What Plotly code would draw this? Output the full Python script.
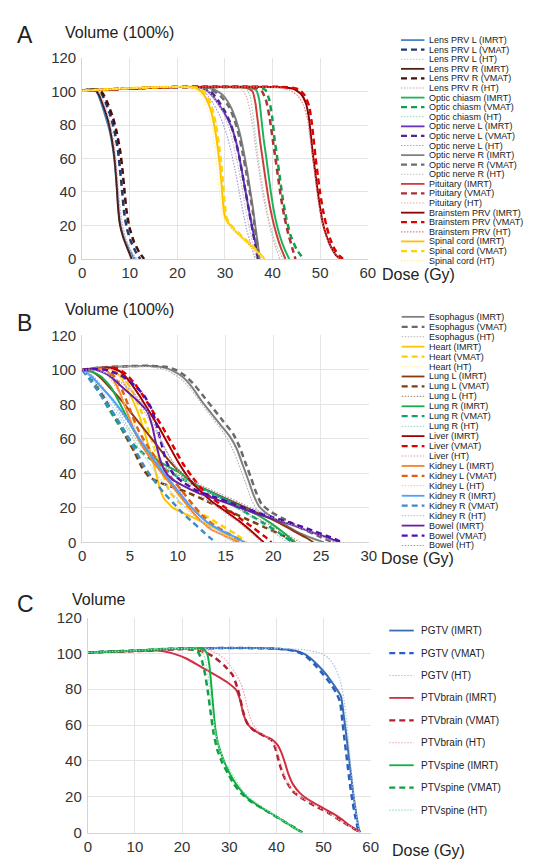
import plotly.graph_objects as go

W, H = 541, 866

# ---------------- Panel A data: (dose Gy, volume %) ----------------
lens_l_imrt = [(0,100.5),(2.5,101.2),(3.2,99),(4,93),(5,84),(5.8,76),(6.5,65),(7,52),(7.4,38),(7.8,24),(8.4,16),(9.3,9),(10.2,4),(11,0)]
lens_l_vmat = [(0,100.5),(3,101.3),(4,99),(5,93),(6,85),(6.8,76),(7.5,65),(8,52),(8.4,40),(8.8,28),(9.4,18),(10.3,10),(11.3,4),(12.2,0)]
lens_l_ht = [(0,100.5),(2.8,101.2),(3.6,98),(4.5,91),(5.5,82),(6.3,72),(6.9,60),(7.3,47),(7.7,33),(8.2,21),(9,12),(10,5),(11.2,0)]
lens_r_imrt = [(0,100.5),(2.7,101.2),(3.5,98),(4.5,91),(5.5,82),(6.2,72),(6.8,60),(7.2,46),(7.5,32),(7.9,21),(8.6,13),(9.4,7),(10.4,0)]
lens_r_vmat = [(0,100.5),(3.5,101.3),(4.5,98),(5.5,92),(6.5,84),(7.3,75),(8,64),(8.5,52),(8.9,40),(9.3,29),(9.9,19),(10.9,10),(12,4),(13,0)]
lens_r_ht = [(0,100.5),(3,101.2),(3.8,98),(4.8,91),(5.8,82),(6.6,71),(7.1,58),(7.5,45),(7.9,32),(8.4,21),(9.2,12),(10.2,5),(11.5,0)]
chiasm_imrt = [(0,100.5),(10,101.8),(20,102.7),(30,102.7),(35,102.3),(36.5,101),(37.2,95),(37.6,85),(38.1,72),(38.7,60),(39.3,47),(39.9,35),(40.6,24),(41.5,14),(42.5,6),(43.5,0)]
chiasm_vmat = [(0,100.5),(10,101.8),(20,102.7),(30,102.7),(37,102.4),(38.5,101),(39.3,95),(39.9,85),(40.4,72),(41,60),(41.6,47),(42.2,35),(42.9,24),(43.8,14),(45,6),(46.5,0)]
chiasm_ht = [(0,100.5),(10,101.8),(20,102.7),(30,102.5),(34.5,101.5),(35.3,97),(35.8,88),(36.3,76),(36.9,62),(37.6,48),(38.4,35),(39.2,24),(40,15),(41,7),(42.2,0)]
nerve_l_imrt = [(0,100.5),(10,101.8),(20,102.7),(24,102.5),(26,101),(27.5,97),(29,91),(30.5,84),(31.6,77),(32.5,68),(33.2,58),(33.9,47),(34.6,36),(35.3,25),(36,15),(36.6,7),(37,0)]
nerve_l_vmat = [(0,100.5),(10,101.8),(20,102.7),(25,102.4),(27,100),(28.5,95),(30,88),(31.3,80),(32.2,71),(33,61),(33.7,50),(34.4,39),(35.1,28),(35.8,17),(36.4,8),(36.9,0)]
nerve_l_ht = [(0,100.5),(10,101.8),(20,102.7),(24,102.2),(26,99),(27.5,93),(29,85),(30.3,75),(31.3,64),(32.2,52),(33,40),(33.8,28),(34.6,17),(35.5,8),(36.3,0)]
nerve_r_imrt = [(0,100.5),(10,101.8),(20,102.7),(25,102.6),(27.5,101.5),(29.5,98),(31,92),(32.2,84),(33.2,74),(34,63),(34.7,52),(35.3,41),(35.9,30),(36.4,19),(36.9,9),(37.3,0)]
nerve_r_vmat = [(0,100.5),(10,101.8),(20,102.7),(25,102.5),(27.2,101),(29.2,97),(30.8,91),(32,83),(33,73),(33.8,62),(34.5,51),(35.2,40),(35.8,29),(36.3,18),(36.8,8),(37.2,0)]
nerve_r_ht = [(0,100.5),(10,101.8),(20,102.7),(24.5,102.3),(26.5,100),(28,95),(29.5,88),(30.8,79),(31.8,68),(32.7,56),(33.5,44),(34.2,32),(35,20),(35.8,10),(36.6,0)]
pituitary_imrt = [(0,100.5),(10,101.8),(20,102.7),(30,102.7),(34.5,102.3),(35.8,100),(36.4,93),(36.9,82),(37.4,70),(38,58),(38.6,46),(39.2,35),(39.9,25),(40.8,15),(41.7,7),(42.7,0)]
pituitary_vmat = [(0,100.5),(10,101.8),(20,102.7),(30,102.7),(36.5,102.2),(37.8,100),(38.7,94),(39.4,84),(40,72),(40.6,60),(41.2,48),(41.8,36),(42.5,25),(43.3,15),(44.1,7),(44.8,0)]
pituitary_ht = [(0,100.5),(10,101.8),(20,102.7),(30,102.5),(33.5,101.5),(34.5,97),(35.3,88),(36,76),(36.6,63),(37.3,50),(38,38),(38.8,27),(39.6,17),(40.5,8),(41.5,0)]
brainstem_imrt = [(0,100.5),(10,101.8),(20,102.7),(35,102.9),(42,102.6),(44.5,101.5),(46,98.5),(47,93),(47.6,85),(48,75),(48.4,64),(48.9,53),(49.4,42),(49.9,32),(50.5,22),(51.3,14),(52.3,7),(53.4,2),(54.2,0)]
brainstem_vmat = [(0,100.5),(10,101.8),(20,102.7),(35,102.9),(43,102.6),(45.5,101.3),(46.8,97.5),(47.7,91),(48.2,82),(48.6,72),(49,61),(49.5,50),(50,39),(50.6,29),(51.3,20),(52.1,12),(53,6),(54,2),(54.8,0)]
brainstem_ht = [(0,100.5),(10,101.8),(20,102.7),(35,102.8),(41,102.4),(43.5,101),(45.3,97.5),(46.5,92),(47.3,84),(47.8,74),(48.3,63),(48.8,52),(49.3,41),(49.8,31),(50.4,22),(51.2,14),(52.2,7),(53.4,2),(54,0)]
cord_imrt = [(0,100.5),(10,102),(20,102.8),(23.5,102.3),(25,100),(26,96),(27,89),(27.8,79),(28.4,68),(28.9,56),(29.3,44),(29.6,33),(30,25),(30.8,21),(32,17),(33.5,13),(35,9),(36.5,5),(38,1),(38.3,0)]
cord_vmat = [(0,100.5),(10,102),(20,102.8),(24,102.3),(25.5,100),(26.5,96),(27.4,89),(28.1,80),(28.7,69),(29.2,57),(29.6,45),(29.9,34),(30.3,25),(31,21),(32.3,17),(33.8,13),(35.3,9),(36.7,5),(38,1),(38.2,0)]
cord_ht = [(0,100.5),(10,102),(20,102.8),(23,102.2),(24.5,99.5),(25.6,95),(26.6,87),(27.4,77),(27.9,66),(28.3,55),(28.7,43),(29.1,33),(29.6,25),(30.5,21),(31.8,17),(33.3,13),(34.8,9),(36.3,5),(37.8,1),(38.1,0)]

# ---------------- Panel B data ----------------
esoph_imrt = [(0,100),(2,101.5),(5,102.2),(7,102.3),(8.5,101.5),(9.5,99.5),(10.5,96),(11.5,90),(12.5,82),(13.5,75),(14.5,68),(15.5,61),(16.2,54),(16.8,45),(17.4,36),(17.9,28),(18.5,21),(19.5,16),(21,11),(22.5,6),(24,2.5),(25.3,0)]
esoph_vmat = [(0,100),(2,101.5),(5,102.2),(7,102.4),(8.8,101.8),(9.8,100),(10.8,96.5),(11.8,91),(12.8,84),(13.8,77),(14.8,70),(15.8,63),(16.5,55),(17.1,46),(17.7,37),(18.2,29),(18.8,22),(19.8,17.5),(21.3,13),(23,8),(24.8,3.5),(26.2,0)]
esoph_ht = [(0,100),(2,101.5),(5,102),(7,101.8),(8.5,100.5),(9.5,98),(10.5,94),(11.5,88),(12.5,80.5),(13.5,73),(14.5,66),(15.3,59),(16,51),(16.6,42),(17.2,33),(17.7,25),(18.3,19),(19.5,14),(21,10),(22.5,5.5),(24,2),(25,0)]
heart_imrt = [(0,100),(2,101),(3,100.5),(4,96),(5,86),(5.8,76),(6.4,66),(7,55),(7.5,45),(8,34),(8.5,26),(9.5,20),(11,16),(12.5,12),(14,8),(15.3,4),(16.5,0)]
heart_vmat = [(0,100),(2,101),(3.3,100.5),(4.3,96),(5.3,87),(6.1,77),(6.8,67),(7.4,57),(8,47),(8.6,37),(9.2,29),(10.2,23),(11.5,19),(13,15),(14.5,10),(16,5),(17.2,0)]
heart_ht = [(0,100),(2,101),(3.2,100),(4.3,94),(5.3,84),(6.2,73),(7,62),(7.8,51),(8.6,40),(9.5,31),(10.5,24),(12,18),(13.5,12),(15,6),(16.5,0)]
lung_l_imrt = [(0,100),(1,99),(2,95),(3,89),(4,83),(5,76),(6,69),(7,62),(8,55),(9,48),(10,42),(11,37),(12,33),(14,28),(16,23),(18,18),(20,13),(22,7),(23.5,2.5),(24.2,0)]
lung_l_vmat = [(0,100),(0.8,96),(1.6,90),(2.5,82),(3.5,72),(4.5,62),(5.5,52),(6.3,43),(7,38),(8,35),(9.5,32),(11,29),(13,24),(15,19),(17,14),(19,9),(21,4),(22.3,0)]
lung_l_ht = [(0,100),(1,97),(2,91),(3,84),(4,76),(5,68),(6,60),(7,53),(8,47),(9.5,41),(11,36),(13,30),(15,24),(17,18),(19,12),(21,6),(22.8,0)]
lung_r_imrt = [(0,100),(1,99),(2,96),(3,90),(4,80),(5,69),(6,59),(7,52),(8,47),(9,44),(10,41),(11,37),(12,33),(13.5,29),(15,25),(16.5,21),(18,17),(19.5,12),(21,6),(22.3,0)]
lung_r_vmat = [(0,100),(0.8,96),(1.6,89),(2.5,80),(3.5,71),(4.5,63),(5.5,56),(6.5,51),(7.5,47),(8.5,43),(10,38),(11.5,34),(13,30),(14.5,26),(16,21),(17.5,16),(19,11),(20.5,6),(22,0)]
lung_r_ht = [(0,100),(1,97),(2,91),(3,83),(4,74),(5,65),(6,57),(7,50),(8,45),(9.5,40),(11,35),(12.5,31),(14,27),(15.5,22),(17,17),(18.5,12),(20,6),(21.5,0)]
liver_imrt = [(0,100),(1.5,101),(3,101.2),(4,99),(5,93),(6,85),(7,76),(8,67),(9,57),(10,47),(10.8,40),(11.6,34),(12.5,29),(13.5,24),(15,18),(16.5,12),(17.8,6),(18.6,2),(19,0)]
liver_vmat = [(0,100),(1.5,101),(3.5,101.2),(4.5,98),(5.5,92),(6.5,84),(7.5,75),(8.5,66),(9.5,56),(10.5,46),(11.5,38),(12.5,31),(13.5,26),(15,20),(16.5,14),(18,8),(19.2,3),(19.8,0)]
liver_ht = [(0,100),(1.5,101),(3,100.5),(4,97),(5,90),(6,81),(7,71),(8,61),(9,51),(10,42),(11,35),(12,29),(13.5,23),(15,17),(16.5,11),(17.8,5),(18.8,0)]
kidney_l_imrt = [(0,100),(1.5,101),(2.5,100),(3.2,95),(4,86),(4.8,74),(5.6,63),(6.5,54),(7.5,46),(8.5,39),(9.5,32),(10.5,25),(11.5,18),(12.5,12),(13.5,7.5),(15,3.5),(16.4,0)]
kidney_l_vmat = [(0,100),(1.5,101),(2.7,100),(3.4,96),(4.2,88),(5,77),(5.8,66),(6.7,57),(7.7,49),(8.7,42),(9.7,35),(10.7,28),(11.7,21),(12.7,15),(13.8,10),(15.3,5),(17,0)]
kidney_l_ht = [(0,100),(1.5,100.5),(2.5,98),(3.3,92),(4.2,83),(5,73),(6,62),(7,53),(8,45),(9,38),(10,31),(11,24),(12,17),(13.2,11),(14.5,6),(16,0)]
kidney_r_imrt = [(0,100),(1,96),(2,90),(3,84),(4,77),(5,69),(6,60),(7,52),(8,44),(9,37),(10,30),(11,23),(12,17),(13,12),(14.5,7),(16,3),(17,0)]
kidney_r_vmat = [(0,100),(0.7,95),(1.5,89),(2.5,81),(3.5,73),(4.5,64),(5.5,54),(6.5,44),(7.5,36),(8.5,29),(9.5,23),(10.5,17),(11.5,12),(12.5,7),(13.3,3),(14,0)]
kidney_r_ht = [(0,100),(1,95),(2,88),(3,80),(4,72),(5,63),(6,54),(7,46),(8,38),(9,31),(10,25),(11,19),(12,14),(13.5,8),(15,3),(16,0)]
bowel_imrt = [(0,100),(1,100.5),(2,99),(3,96),(4,91),(5,86),(6,81),(6.8,76),(7.3,68),(7.7,58),(8.1,49),(8.6,42),(9.3,37),(10.5,33),(12,29),(14,25),(16,21),(18,17),(20,13.5),(22,10),(24,6),(25.8,2.5),(27,0)]
bowel_vmat = [(0,100),(1,100.5),(2.5,100),(4,97),(5.5,91),(6.5,85),(7.2,78),(7.8,68),(8.3,57),(8.8,47),(9.5,40),(10.5,35),(12,30),(14,26),(16,22),(18,18),(20,14.5),(22,11),(24,7),(26,3),(27.2,0)]
bowel_ht = [(0,100),(1,100),(2.5,98),(4,93),(5.5,86),(6.5,79),(7.4,70),(8.2,60),(9,51),(9.8,44),(11,38),(12.5,33),(14.5,28),(16.5,23),(18.5,18),(20.5,13),(22.5,9),(24.5,5),(26.5,0)]

# ---------------- Panel C data ----------------
pgtv_imrt = [(0,100.5),(10,101.5),(20,102.5),(30,103),(40,102.6),(44,101.5),(46,99.5),(48,95.5),(50,90),(51.5,85),(52.8,80),(53.7,76),(54.3,65),(54.8,55),(55.3,44),(55.8,33),(56.3,22),(56.9,11),(57.5,2),(57.8,0)]
pgtv_vmat = [(0,100.5),(10,101.5),(20,102.5),(30,103),(40,102.6),(44,101.3),(46,99),(48,94),(50,88),(51.5,83),(52.7,78),(53.5,73),(54,62),(54.5,51),(55,40),(55.5,29),(56.1,18),(56.8,8),(57.4,1),(57.7,0)]
pgtv_ht = [(0,100.5),(10,101.5),(20,102.5),(30,103),(40,102.8),(46,102),(49,100.5),(51,97.5),(52.5,92),(53.5,85),(54.3,75),(54.9,62),(55.4,48),(55.9,34),(56.4,21),(57,9),(57.6,0)]
ptvbrain_imrt = [(0,100.5),(10,101.3),(15,101.6),(18,100),(21,97),(24,92.5),(27,88),(29.5,84),(31.5,79.5),(32.3,74),(33,66),(33.8,61),(35,57.5),(37,54.5),(39,52),(40.2,49),(41,45),(41.8,39),(42.5,33),(43.5,27),(45,22),(47,18),(50,13.5),(53,9),(55.5,4),(57.5,0.5)]
ptvbrain_vmat = [(0,100.5),(10,101.3),(20,102.4),(23,102),(25,100.5),(27,97.5),(29,93),(30.7,88),(31.7,81),(32.3,75),(33,67),(33.8,61),(35,57.5),(37,54.5),(39,51.5),(39.8,47),(40.5,40),(41.2,34),(42,29),(43.5,23),(45.5,19),(48,15),(51,11),(54,6),(57.5,0.5)]
ptvbrain_ht = [(0,100.5),(10,101.3),(20,102.4),(25,102),(27,100.5),(29,97),(30.5,92),(31.5,88),(32.5,83),(33.3,76),(34,68),(34.7,62),(36,57),(38,53.5),(39.5,50),(40.3,45),(41,38),(41.8,31),(43,25),(45,20),(48,15.5),(51,11),(54,6),(57.5,0.5)]
ptvspine_imrt = [(0,100.5),(10,101.5),(17,102.6),(22,102.7),(24.5,102.3),(25.3,100),(25.8,93),(26.2,82),(26.6,70),(27,59),(27.6,50),(28.3,44),(29.2,38),(30.5,31),(32,25),(34,19),(36.5,14.5),(39,10.5),(41.5,6.5),(43.5,3),(45.5,0)]
ptvspine_vmat = [(0,100.5),(10,101.5),(17,102.6),(21.5,102.6),(23.3,101),(24.2,96),(24.9,88),(25.5,78),(26.1,66),(26.7,55),(27.5,46),(28.5,39),(29.7,33),(31,27),(32.5,22),(34.5,17.5),(37,13.5),(39.5,9.5),(42,5.5),(44,2.5),(45.5,0)]
ptvspine_ht = [(0,100.5),(10,101.5),(17,102.6),(22,102.6),(24,101.8),(24.9,97),(25.5,88),(26,77),(26.5,66),(27.1,56),(27.9,47),(29,40),(30.3,34),(31.7,28),(33.3,22),(35.5,17),(38,12.5),(40.5,8),(43,4),(45.3,0)]

# tick labels
ticks_a_x = [0, 10, 20, 30, 40, 50, 60]
ticks_b_x = [0, 5, 10, 15, 20, 25, 30]
ticks_c_x = [0, 10, 20, 30, 40, 50, 60]
ticks_y = [0, 20, 40, 60, 80, 100, 120]

# series: (name, data, colour, style)
series_a = [
    ("Lens PRV L (IMRT)", lens_l_imrt, "#4a86c8", "solid"),
    ("Lens PRV L (VMAT)", lens_l_vmat, "#1f3a6e", "dash"),
    ("Lens PRV L (HT)", lens_l_ht, "#b8c4dc", "dot"),
    ("Lens PRV R (IMRT)", lens_r_imrt, "#4a2018", "solid"),
    ("Lens PRV R (VMAT)", lens_r_vmat, "#4a0e0e", "dash"),
    ("Lens PRV R (HT)", lens_r_ht, "#c8a0b8", "dot"),
    ("Optic chiasm (IMRT)", chiasm_imrt, "#1db45a", "solid"),
    ("Optic chiasm (VMAT)", chiasm_vmat, "#12a050", "dash"),
    ("Optic chiasm (HT)", chiasm_ht, "#8fd8c0", "dot"),
    ("Optic nerve L (IMRT)", nerve_l_imrt, "#6a30c8", "solid"),
    ("Optic nerve L (VMAT)", nerve_l_vmat, "#4b2a8a", "dash"),
    ("Optic nerve L (HT)", nerve_l_ht, "#b09ae0", "dot"),
    ("Optic nerve R (IMRT)", nerve_r_imrt, "#808080", "solid"),
    ("Optic nerve R (VMAT)", nerve_r_vmat, "#6e6e6e", "dash"),
    ("Optic nerve R (HT)", nerve_r_ht, "#c0c0c0", "dot"),
    ("Pituitary (IMRT)", pituitary_imrt, "#d23c3c", "solid"),
    ("Pituitary (VMAT)", pituitary_vmat, "#b03030", "dash"),
    ("Pituitary (HT)", pituitary_ht, "#e4a8a8", "dot"),
    ("Brainstem PRV (IMRT)", brainstem_imrt, "#8b0000", "solid"),
    ("Brainstem PRV (VMAT)", brainstem_vmat, "#e00000", "dash"),
    ("Brainstem PRV (HT)", brainstem_ht, "#f07878", "dot"),
    ("Spinal cord (IMRT)", cord_imrt, "#ffc000", "solid"),
    ("Spinal cord (VMAT)", cord_vmat, "#ffd400", "dash"),
    ("Spinal cord (HT)", cord_ht, "#fff0a0", "dot"),
]
series_b = [
    ("Esophagus (IMRT)", esoph_imrt, "#808080", "solid"),
    ("Esophagus (VMAT)", esoph_vmat, "#6a6a6a", "dash"),
    ("Esophagus (HT)", esoph_ht, "#b4b4b4", "dot"),
    ("Heart (IMRT)", heart_imrt, "#ffc400", "solid"),
    ("Heart (VMAT)", heart_vmat, "#ffd000", "dash"),
    ("Heart (HT)", heart_ht, "#fff2b0", "dot"),
    ("Lung L (IMRT)", lung_l_imrt, "#8b3a10", "solid"),
    ("Lung L (VMAT)", lung_l_vmat, "#7a4010", "dash"),
    ("Lung L (HT)", lung_l_ht, "#b09478", "dot"),
    ("Lung R (IMRT)", lung_r_imrt, "#1aaa4a", "solid"),
    ("Lung R (VMAT)", lung_r_vmat, "#12a070", "dash"),
    ("Lung R (HT)", lung_r_ht, "#90d0c0", "dot"),
    ("Liver (IMRT)", liver_imrt, "#a00000", "solid"),
    ("Liver (VMAT)", liver_vmat, "#e00000", "dash"),
    ("Liver (HT)", liver_ht, "#d8a0a8", "dot"),
    ("Kidney L (IMRT)", kidney_l_imrt, "#ff8020", "solid"),
    ("Kidney L (VMAT)", kidney_l_vmat, "#e06010", "dash"),
    ("Kidney L (HT)", kidney_l_ht, "#e0c4a4", "dot"),
    ("Kidney R (IMRT)", kidney_r_imrt, "#4f9fff", "solid"),
    ("Kidney R (VMAT)", kidney_r_vmat, "#3c8cc8", "dash"),
    ("Kidney R (HT)", kidney_r_ht, "#b0c8e8", "dot"),
    ("Bowel (IMRT)", bowel_imrt, "#6a20a0", "solid"),
    ("Bowel (VMAT)", bowel_vmat, "#5010b0", "dash"),
    ("Bowel (HT)", bowel_ht, "#a498c4", "dot"),
]
series_c = [
    ("PGTV (IMRT)", pgtv_imrt, "#3a6db0", "solid"),
    ("PGTV (VMAT)", pgtv_vmat, "#2a5fc0", "dash"),
    ("PGTV (HT)", pgtv_ht, "#a8c4e0", "dot"),
    ("PTVbrain (IMRT)", ptvbrain_imrt, "#d03040", "solid"),
    ("PTVbrain (VMAT)", ptvbrain_vmat, "#b02030", "dash"),
    ("PTVbrain (HT)", ptvbrain_ht, "#f0a4b4", "dot"),
    ("PTVspine (IMRT)", ptvspine_imrt, "#10b040", "solid"),
    ("PTVspine (VMAT)", ptvspine_vmat, "#10a040", "dash"),
    ("PTVspine (HT)", ptvspine_ht, "#90e0c0", "dot"),
]

FONT = "Liberation Sans"
DASH = {"solid": "solid", "dash": "6px,4px", "dot": "1.5px,1.5px"}
WIDTH = {"solid": 2, "dash": 2.5, "dot": 1.2}

def px(x):
    return x / W

def py(y):
    return 1 - y / H

fig = go.Figure()

panels = [
    ("", "", series_a, ticks_a_x, [0, 60], (80, 372), (50, 255)),
    ("2", "2", series_b, ticks_b_x, [0, 30], (80, 373), (333, 544)),
    ("3", "3", series_c, ticks_c_x, [0, 60], (85.7, 375), (620.7, 840)),
]

for xs, ys, series, xt, xr, (xl, xrpx), (yt, yb) in panels:
    for name, pts, col, sty in series:
        fig.add_trace(go.Scatter(
            x=[p[0] for p in pts], y=[p[1] for p in pts], mode="lines", name=name,
            line=dict(color=col, width=WIDTH[sty], dash=DASH[sty], shape="spline", smoothing=0.5),
            xaxis="x" + xs, yaxis="y" + ys, showlegend=False, hoverinfo="skip"))
    axcommon = dict(showgrid=True, gridcolor="#e4e4e4", gridwidth=1, zeroline=False,
                    showline=True, linecolor="#d4d4d4", linewidth=1, ticks="",
                    tickfont=dict(family=FONT, size=15, color="#333333"), fixedrange=True)
    fig.update_layout(**{
        "xaxis" + xs: dict(domain=[px(xl), px(xrpx)], range=xr, tickvals=xt,
                           anchor="y" + ys, **axcommon),
        "yaxis" + ys: dict(domain=[py(yb), py(yt)], range=[0, 120], tickvals=ticks_y,
                           anchor="x" + xs, ticklabelstandoff=2, **axcommon),
    })

# manual legends
shapes = []
annos = []
legends = [
    (series_a, 406, 430, 434, 31.7, 9.78, 9.0, 104),
    (series_b, 406.7, 430, 434, 314, 10.14, 9.0, 104),
    (series_c, 394, 419, 425, 634, 22.9, 10, 110),
]
for series, x0, x1, tx, y0, dy, fs, bw in legends:
    for i, (name, pts, col, sty) in enumerate(series):
        yy = y0 + i * dy
        shapes.append(dict(type="line", xref="paper", yref="paper",
                           x0=px(x0), x1=px(x1), y0=py(yy), y1=py(yy),
                           line=dict(color=col, width=WIDTH[sty] * 0.9, dash=DASH[sty])))
        annos.append(dict(text=name, xref="paper", yref="paper", x=px(tx), y=py(yy),
                          xanchor="left", yanchor="middle", showarrow=False, align="left",
                          width=bw, borderpad=0,
                          font=dict(family=FONT, size=fs, color="#222222")))

labels = [
    ("A", 11, 27, 23), ("Volume (100%)", 60, 24, 16), ("Dose (Gy)", 385, 271, 16),
    ("B", 11, 320, 23), ("Volume (100%)", 60, 307, 16), ("Dose (Gy)", 383, 561, 16),
    ("C", 11, 607, 23), ("Volume", 67, 602, 16), ("Dose (Gy)", 395, 858, 16),
]
for t, x, y, s in labels:
    annos.append(dict(text=t, xref="paper", yref="paper", x=px(x), y=py(y),
                      xanchor="left", yanchor="middle", showarrow=False,
                      font=dict(family=FONT, size=s, color="#222222")))

fig.update_layout(width=W, height=H, margin=dict(l=0, r=0, t=0, b=0),
                  paper_bgcolor="white", plot_bgcolor="white", showlegend=False,
                  shapes=shapes, annotations=annos)

fig.write_html("out.html", config={"displayModeBar": False},
               post_script="document.body.style.margin='0';document.body.style.overflow='hidden';")
